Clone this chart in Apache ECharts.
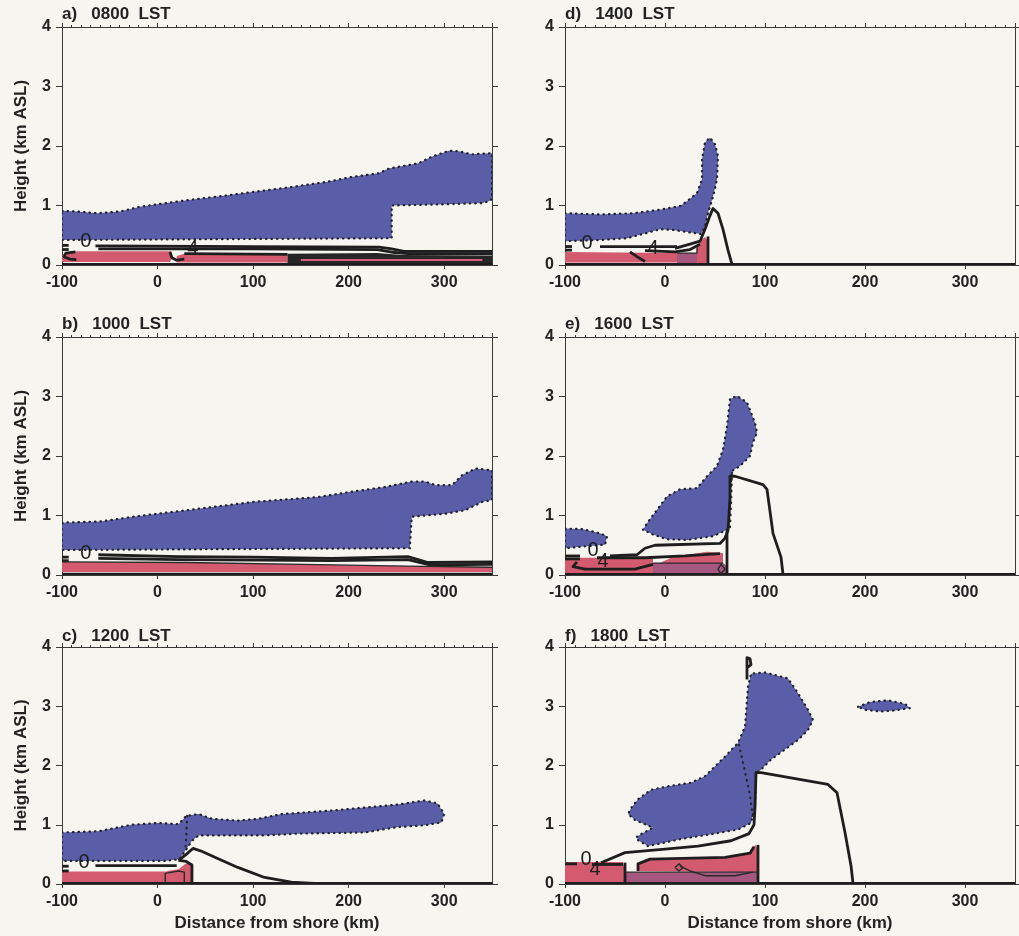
<!DOCTYPE html>
<html>
<head>
<meta charset="utf-8">
<script src="https://cdn.jsdelivr.net/npm/echarts@6/dist/echarts.min.js"></script>
<style>
html, body { margin: 0; padding: 0; background: #f6f5f0; }
#chart { width: 1019px; height: 936px; }
</style>
</head>
<body>
<div id="chart"></div>
<script>
// Axis ranges, ticks and texts
const xRange = [-100, 350];
const xStep = 100;
const yRange = [0, 4];
const yStep = 1;
const panelTitles = ['a)   0800  LST', 'b)   1000  LST', 'c)   1200  LST',
                     'd)   1400  LST', 'e)   1600  LST', 'f)   1800  LST'];
const yName = 'Height (km ASL)';
const xName = 'Distance from shore (km)';

// ---- a) 0800 LST : [distance km, height km]
const cloudA = [[[-100,0.91],[-84,0.90],[-63,0.87],[-39,0.90],[-18,0.98],[0,1.02],[31,1.09],[63,1.15],[101,1.23],[140,1.31],[178,1.40],[203,1.48],[231,1.54],[242,1.62],[273,1.71],[287,1.82],[305,1.92],[315,1.91],[329,1.86],[350,1.88],[350,1.12],[348,1.08],[340,1.04],[300,1.02],[245,1.0],[245,0.45],[-100,0.42]]];
const warmA = [[[-100,0.05],[-100,0.16],[-95,0.21],[-85,0.23],[14,0.23],[16,0.14],[13,0.05]],
               [[20,0.04],[20,0.15],[28,0.19],[60,0.18],[136,0.17],[136,0.04]]];
const mixA = [];
const denseA = [[[136,0.02],[136,0.19],[230,0.2],[255,0.17],[350,0.16],[350,0.02]]];
const contourA = [[[-65,0.32],[100,0.31],[232,0.30],[245,0.27],[258,0.23],[350,0.23]],
                  [[-62,0.27],[100,0.27],[230,0.26],[248,0.21],[262,0.19],[350,0.19]],
                  [[-100,0.33],[-93,0.33]], [[-100,0.26],[-93,0.26]],
                  [[-86,0.22],[-96,0.2],[-98,0.14],[-92,0.1],[-85,0.09]],
                  [[13,0.22],[15,0.12],[20,0.08],[28,0.1]],
                  [[28,0.19],[136,0.18]],
                  [[-100,0.01],[350,0.01]]];
const thinA = [[[180,0.13],[300,0.13]]];
const pinkA = [[[150,0.085],[340,0.085]]];
const dotA = [];
const labelA = [[-75,0.39,'0'],[37,0.28,'4']];

// ---- b) 1000 LST
const cloudB = [[[-100,0.88],[-60,0.90],[-25,0.98],[0,1.03],[31,1.09],[101,1.23],[168,1.31],[203,1.40],[238,1.48],[266,1.57],[280,1.57],[291,1.51],[308,1.51],[319,1.68],[333,1.79],[350,1.76],[350,1.26],[340,1.23],[322,1.09],[301,1.03],[266,0.98],[264,0.45],[-100,0.42]]];
const warmB = [[[-100,0.05],[-100,0.22],[30,0.21],[185,0.17],[260,0.15],[350,0.13],[350,0.05]]];
const mixB = [];
const denseB = [];
const contourB = [[[-62,0.34],[21,0.31],[100,0.3],[182,0.28],[262,0.31],[283,0.21],[350,0.22]],
                  [[-62,0.28],[21,0.26],[182,0.24],[262,0.26],[285,0.17],[350,0.18]],
                  [[-100,0.3],[-93,0.3]], [[-100,0.24],[-93,0.24]],
                  [[-100,0.015],[350,0.015]]];
const thinB = [[[-100,0.22],[30,0.21],[185,0.17],[260,0.15],[350,0.13]]];
const pinkB = [];
const dotB = [];
const labelB = [[-75,0.37,'0']];

// ---- c) 1200 LST
const cloudC = [[[-100,0.87],[-62,0.89],[-27,1.0],[1,1.03],[22,1.01],[30,1.15],[43,1.18],[57,1.10],[84,1.07],[105,1.10],[130,1.18],[182,1.24],[217,1.29],[251,1.34],[279,1.41],[293,1.36],[300,1.18],[297,1.04],[279,0.99],[251,0.96],[217,0.87],[147,0.85],[112,0.82],[77,0.82],[43,0.82],[36,0.73],[29,0.56],[23,0.42],[8,0.39],[-100,0.39]]];
const warmC = [[[-100,0.03],[-100,0.21],[10,0.21],[12,0.03]],
               [[10,0.03],[10,0.22],[22,0.25],[30,0.35],[35,0.33],[36,0.03]]];
const mixC = [];
const denseC = [];
const contourC = [[[-65,0.31],[20,0.31]],
                  [[-100,0.3],[-93,0.3]], [[-100,0.22],[-93,0.22]],
                  [[22,0.4],[30,0.5],[37,0.6],[45,0.56],[60,0.45],[84,0.28],[112,0.11],[140,0.03],[164,0.01],[350,0.01]],
                  [[-100,0.01],[164,0.01]],
                  [[36,0.02],[36,0.32],[30,0.38],[22,0.4]]];
const thinC = [[[8,0.02],[8,0.18],[22,0.22],[28,0.2],[28,0.02]]];
const pinkC = [];
const dotC = [[[31,1.15],[30,0.8],[29,0.56]]];
const labelC = [[-77,0.36,'0']];

// ---- d) 1400 LST
const cloudD = [[[-100,0.87],[-65,0.85],[-32,0.87],[-5,0.93],[15,0.99],[22,1.07],[32,1.21],[37,1.44],[37,1.77],[40,2.06],[45,2.14],[50,2.03],[53,1.83],[52,1.44],[48,1.15],[43,0.87],[40,0.65],[36,0.52],[28,0.54],[8,0.59],[-5,0.60],[-18,0.54],[-38,0.45],[-65,0.42],[-100,0.40]]];
const warmD = [[[-100,0.04],[-100,0.22],[12,0.2],[12,0.04]],
               [[32,0.02],[32,0.3],[36,0.42],[40,0.47],[43,0.4],[43,0.02]]];
const mixD = [[[12,0.02],[12,0.2],[32,0.2],[32,0.02]]];
const denseD = [];
const contourD = [[[-65,0.31],[12,0.31]],
                  [[-100,0.31],[-93,0.31]], [[-100,0.25],[-93,0.25]],
                  [[10,0.28],[25,0.35],[35,0.4],[40,0.6],[45,0.83],[48,0.95],[53,0.87],[58,0.6],[63,0.25],[67,0.01],[350,0.01]],
                  [[-100,0.01],[67,0.01]],
                  [[43,0.02],[43,0.48]],
                  [[-35,0.22],[-28,0.14],[-20,0.06]],
                  [[-20,0.24],[10,0.22],[25,0.26],[35,0.35]]];
const thinD = [[[12,0.2],[32,0.2],[32,0.3]]];
const pinkD = [];
const dotD = [];
const labelD = [[-78,0.37,'0'],[-12,0.27,'4']];

// ---- e) 1600 LST
const cloudE = [[[-22,0.76],[-18,0.87],[2,1.32],[15,1.44],[32,1.46],[42,1.66],[52,1.83],[58,2.11],[62,2.5],[65,2.96],[72,3.01],[82,2.9],[90,2.56],[92,2.39],[88,2.23],[85,2.0],[75,1.83],[67,1.75],[65,1.3],[64,0.9],[62,0.76],[48,0.65],[35,0.62],[22,0.59],[2,0.60],[-12,0.68]],
                [[-100,0.78],[-82,0.77],[-65,0.70],[-58,0.65],[-60,0.51],[-82,0.48],[-100,0.45]]];
const warmE = [[[-100,0.03],[-100,0.29],[-12,0.29],[-12,0.03]],
               [[-5,0.2],[5,0.28],[25,0.35],[42,0.39],[58,0.37],[58,0.2]]];
const mixE = [[[-12,0.02],[-12,0.2],[58,0.2],[62,0.15],[62,0.02]]];
const denseE = [];
const contourE = [[[-55,0.32],[-28,0.34],[-20,0.45],[-10,0.5],[55,0.53],[60,0.62],[63,0.75],[65,1.27],[65,1.66],[70,1.66],[98,1.52],[102,1.44],[108,0.7],[116,0.3],[118,0.01],[350,0.01]],
                  [[-100,0.32],[-85,0.32]], [[-100,0.27],[-85,0.27]],
                  [[-68,0.29],[-20,0.29],[20,0.32],[55,0.36]],
                  [[-100,0.01],[118,0.01]],
                  [[62,0.01],[62,0.75]],
                  [[-88,0.22],[-92,0.14],[-80,0.1],[-30,0.1],[-12,0.18]]];
const thinE = [[[-12,0.2],[58,0.2]], [[56,0.02],[53,0.1],[56,0.18],[60,0.1],[56,0.02]]];
const pinkE = [];
const dotE = [[[67,1.72],[66,1.2],[65,0.8]]];
const labelE = [[-72,0.41,'0'],[-62,0.22,'4']];

// ---- f) 1800 LST
const cloudF = [[[-27,0.74],[-17,0.64],[0,0.70],[16,0.76],[46,0.84],[73,0.92],[86,1.03],[90,1.31],[91,1.87],[96,1.93],[106,2.1],[120,2.27],[133,2.43],[143,2.6],[148,2.77],[143,2.94],[133,3.22],[123,3.47],[100,3.57],[86,3.55],[83,3.33],[80,2.66],[73,2.38],[60,2.15],[40,1.82],[26,1.71],[3,1.65],[-14,1.59],[-27,1.43],[-34,1.28],[-37,1.18],[-30,1.08],[-12,0.95],[-22,0.86],[-28,0.8]],
                [[193,2.99],[205,3.07],[223,3.1],[240,3.04],[245,2.97],[230,2.93],[216,2.91],[200,2.94]]];
const warmF = [[[-100,0.03],[-100,0.37],[-42,0.37],[-40,0.2],[-40,0.03]],
               [[-27,0.22],[-27,0.34],[-15,0.42],[60,0.45],[85,0.52],[88,0.63],[91,0.66],[93,0.55],[93,0.2]]];
const mixF = [[[-40,0.03],[-40,0.2],[93,0.2],[93,0.03]]];
const denseF = [];
const contourF = [[[-64,0.36],[-40,0.53],[0,0.59],[33,0.64],[66,0.73],[84,0.85],[89,1.0],[90,1.3],[91,1.88],[96,1.88],[163,1.68],[172,1.54],[180,0.87],[186,0.31],[188,0.01],[350,0.01]],
                  [[-100,0.34],[-88,0.34]], [[-73,0.33],[-42,0.33]],
                  [[-100,0.01],[188,0.01]],
                  [[93,0.01],[93,0.66]],
                  [[-27,0.22],[-27,0.34],[-15,0.42],[60,0.45],[85,0.52],[89,0.63]],
                  [[-40,0.36],[-40,0.02]],
                  [[82,3.45],[82,3.82],[85,3.8],[86,3.7],[83,3.66]]];
const thinF = [[[-40,0.2],[93,0.2]],
               [[15,0.3],[25,0.22],[40,0.14],[70,0.14],[88,0.2]],
               [[10,0.28],[14,0.34],[18,0.28],[14,0.22],[10,0.28]]];
const pinkF = [];
const dotF = [[[74,2.35],[80,1.9],[85,1.5],[88,1.1]]];
const labelF = [[-79,0.42,'0'],[-70,0.25,'4']];

// ---- layout of the six panels
const FONT = 'Liberation Sans, Arial, Helvetica, sans-serif';
const colLeft = [62, 565];
const colWidth = [430, 450];
const rowTop = [27, 337, 647];
const rowHeight = [238, 238, 237];
const titleTop = [6, 316, 628];

const panels = [
  { col: 0, row: 0, cloud: cloudA, warm: warmA, mix: mixA, dense: denseA, contour: contourA, thin: thinA, pink: pinkA, dot: dotA, label: labelA },
  { col: 0, row: 1, cloud: cloudB, warm: warmB, mix: mixB, dense: denseB, contour: contourB, thin: thinB, pink: pinkB, dot: dotB, label: labelB },
  { col: 0, row: 2, cloud: cloudC, warm: warmC, mix: mixC, dense: denseC, contour: contourC, thin: thinC, pink: pinkC, dot: dotC, label: labelC },
  { col: 1, row: 0, cloud: cloudD, warm: warmD, mix: mixD, dense: denseD, contour: contourD, thin: thinD, pink: pinkD, dot: dotD, label: labelD },
  { col: 1, row: 1, cloud: cloudE, warm: warmE, mix: mixE, dense: denseE, contour: contourE, thin: thinE, pink: pinkE, dot: dotE, label: labelE },
  { col: 1, row: 2, cloud: cloudF, warm: warmF, mix: mixF, dense: denseF, contour: contourF, thin: thinF, pink: pinkF, dot: dotF, label: labelF }
];

const STYLES = {
  cloud:   { type: 'polygon',  style: { fill: '#5a5ea8', stroke: '#23232e', lineWidth: 2.2, lineDash: [0.5, 5], lineCap: 'round' } },
  warm:    { type: 'polygon',  style: { fill: '#d45b6f', stroke: null } },
  mix:     { type: 'polygon',  style: { fill: '#a5577f', stroke: null } },
  dense:   { type: 'polygon',  style: { fill: '#262626', stroke: null } },
  contour: { type: 'polyline', style: { fill: null, stroke: '#1e1e1e', lineWidth: 2.8, lineJoin: 'round' } },
  thin:    { type: 'polyline', style: { fill: null, stroke: '#2a2a2a', lineWidth: 1.4, lineJoin: 'round' } },
  pink:    { type: 'polyline', style: { fill: null, stroke: '#d8607a', lineWidth: 2 } },
  dot:     { type: 'polyline', style: { fill: null, stroke: '#23232e', lineWidth: 2.2, lineDash: [0.5, 5.5], lineCap: 'round' } }
};
const drawOrder = ['cloud', 'warm', 'mix', 'dense', 'contour', 'thin', 'pink', 'dot'];

const axisColor = '#3a3a3a';
const grid = [], xAxis = [], yAxis = [], title = [], series = [];

panels.forEach((p, i) => {
  grid.push({ left: colLeft[p.col], top: rowTop[p.row], width: colWidth[p.col], height: rowHeight[p.row], containLabel: false });
  title.push({ text: panelTitles[i], left: colLeft[p.col], top: titleTop[p.row], padding: 0,
               textStyle: { fontFamily: FONT, fontSize: 17, fontWeight: 'bold', color: '#222' } });
  const bottomRow = p.row === 2;
  xAxis.push({
    gridIndex: i, type: 'value', position: 'bottom', min: xRange[0], max: xRange[1], interval: xStep,
    axisLine: { show: true, onZero: false, lineStyle: { color: axisColor, width: 1 } },
    axisTick: { show: true, length: 4, lineStyle: { color: axisColor } },
    axisLabel: { fontFamily: FONT, fontSize: 16, fontWeight: 'bold', color: '#222', margin: 10, showMaxLabel: false },
    splitLine: { show: false },
    name: bottomRow ? xName : '', nameLocation: 'middle', nameGap: 31,
    nameTextStyle: { fontFamily: FONT, fontSize: 17, fontWeight: 'bold', color: '#222' }
  });
  xAxis.push({
    gridIndex: i, type: 'value', position: 'top', min: xRange[0], max: xRange[1], interval: xStep, splitNumber: 10,
    axisLine: { show: true, onZero: false, lineStyle: { color: axisColor, width: 1 } },
    axisTick: { show: true, length: 4, lineStyle: { color: axisColor } },
    minorTick: { show: true, splitNumber: 10, length: 2, lineStyle: { color: axisColor } },
    axisLabel: { show: false }, splitLine: { show: false }
  });
  yAxis.push({
    gridIndex: i, type: 'value', position: 'left', min: yRange[0], max: yRange[1], interval: yStep,
    axisLine: { show: true, onZero: false, lineStyle: { color: axisColor, width: 1 } },
    axisTick: { show: true, length: 6, lineStyle: { color: axisColor } },
    axisLabel: { fontFamily: FONT, fontSize: 16, fontWeight: 'bold', color: '#222', margin: 11 },
    splitLine: { show: false },
    name: p.col === 0 ? yName : '', nameLocation: 'middle', nameGap: 32,
    nameTextStyle: { fontFamily: FONT, fontSize: 17, fontWeight: 'bold', color: '#222' }
  });
  yAxis.push({
    gridIndex: i, type: 'value', position: 'right', min: yRange[0], max: yRange[1], interval: yStep,
    axisLine: { show: true, onZero: false, lineStyle: { color: axisColor, width: 1 } },
    axisTick: { show: true, length: 6, lineStyle: { color: axisColor } },
    axisLabel: { show: false }, splitLine: { show: false }
  });

  // every filled region, contour line and contour label of this panel
  const shapes = [];
  drawOrder.forEach(kind => p[kind].forEach(pts => shapes.push({ kind, pts })));
  p.label.forEach(l => shapes.push({ kind: 'label', pts: [[l[0], l[1]]], text: l[2] }));

  series.push({
    type: 'custom', coordinateSystem: 'cartesian2d', xAxisIndex: 2 * i, yAxisIndex: 2 * i,
    silent: true, animation: false, clip: true,
    data: shapes.map((s, k) => [s.pts[0][0], s.pts[0][1], k]),
    renderItem: (params, api) => {
      const s = shapes[api.value(2)];
      if (s.kind === 'label') {
        const c = api.coord(s.pts[0]);
        return { type: 'text', x: c[0], y: c[1],
                 style: { text: s.text, font: '20px ' + FONT, fill: '#1e1e1e', align: 'center', verticalAlign: 'middle' } };
      }
      const def = STYLES[s.kind];
      return { type: def.type, shape: { points: s.pts.map(pt => api.coord(pt)) }, style: Object.assign({}, def.style) };
    }
  });
});

const chart = echarts.init(document.getElementById('chart'), null, { renderer: 'canvas' });
chart.setOption({
  backgroundColor: '#f6f5f0',
  animation: false,
  title, grid, xAxis, yAxis, series
});
</script>
</body>
</html>
